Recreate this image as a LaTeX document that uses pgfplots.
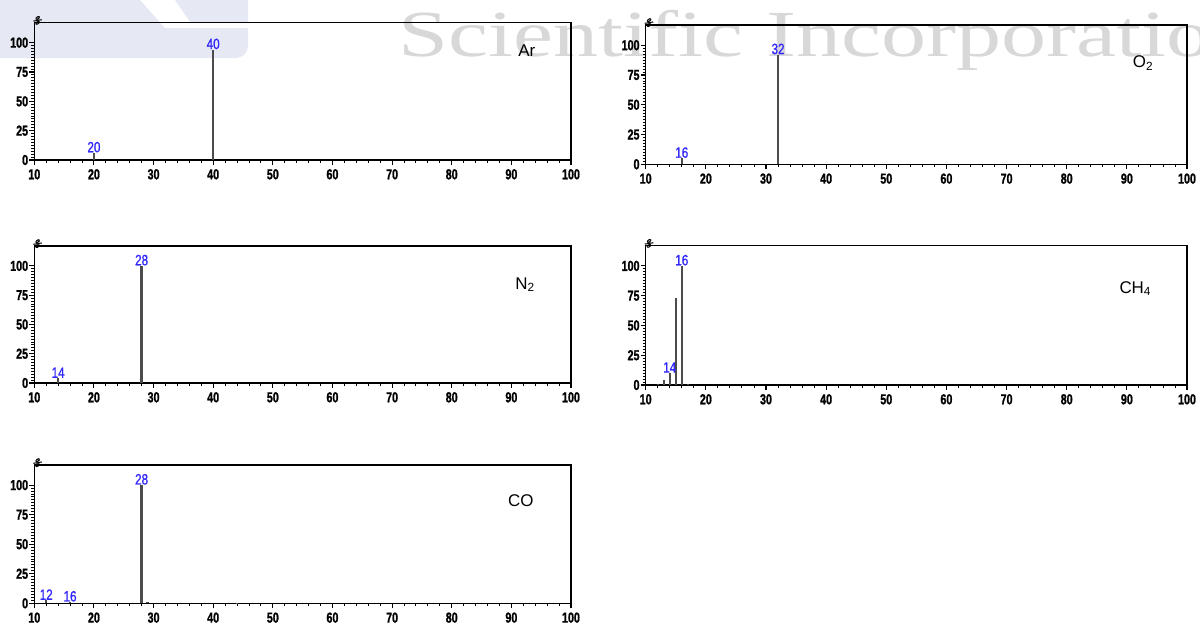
\documentclass[border=0pt]{standalone}
\usepackage{fontspec}
\setmainfont{Liberation Sans}
\newfontfamily\tickfont{Liberation Sans}[UprightFont=* Bold, FakeStretch=0.74, FakeBold=1.2]
\newfontfamily\peakfont{Liberation Sans}[FakeStretch=0.78, FakeBold=1]
\newfontfamily\wmfont{Liberation Serif}
\usepackage{pgfplots}
\pgfplotsset{compat=1.18}
\definecolor{peakblue}{RGB}{50,40,250}
\definecolor{wm}{RGB}{216,216,216}
\definecolor{logo}{RGB}{230,233,243}
\pgfplotsset{
  spec/.style={
    scale only axis, anchor=north west,
    xmin=10, xmax=100, ymin=0, ymax=117,
    xtick={10,20,...,100}, ytick={0,25,50,75,100},
    minor x tick num=4, minor y tick num=9,
    tick pos=left, tick align=outside,
    major tick length=5bp, minor tick length=3bp,
    tick style={black, line width=1.1bp},
    minor tick style={line width=0.9bp},
    axis line style={black, line width=1.5bp},
    ticklabel style={font=\tickfont\fontsize{14.5}{14.5}\selectfont, inner sep=1bp},
    xticklabel style={yshift=-3bp},
    /pgf/number format/assume math mode=true,
    clip=false,
    after end axis/.code={
      \node[font=\tickfont\fontsize{11}{11}\selectfont, rotate=-55, anchor=south, inner sep=0pt]
        at (rel axis cs:0,1) {\%};
    },
  },
  peaks/.style={ycomb, black!70, line width=2.4bp, mark=none},
  lbl/.style={draw=none, mark=none, nodes near coords, point meta=explicit symbolic,
    nodes near coords style={font=\peakfont\fontsize{15}{15}\selectfont, text=peakblue,
      inner sep=0.3bp, anchor=south}},
}
\tikzset{gas/.style={font=\fontsize{17}{17}\selectfont, anchor=base}}
\begin{document}
\begin{tikzpicture}
\useasboundingbox (0,0) rectangle (1200bp,-624bp);
% background logo and watermark
\fill[logo] (0,0) -- (140bp,0) -- (165bp,-28bp) -- (248bp,-28bp) -- (248bp,-46bp)
  arc[start angle=0, end angle=-90, radius=12bp] -- (0,-58bp) -- cycle;
\fill[logo] (175bp,0) -- (248bp,0) -- (248bp,-22bp) -- (190bp,-22bp) -- cycle;
\node[anchor=base west, inner sep=0pt, text=wm, font=\wmfont\fontsize{66}{66}\selectfont]
  at (398bp,-56bp) {\scalebox{1.37}[1]{Scientific Incorporation}};

% Ar
\begin{axis}[spec, at={(34.3bp,-22.7bp)}, width=536.7bp, height=137.3bp]
\addplot[peaks] coordinates {(20,6) (40,94)};
\addplot[lbl] coordinates {(20,6)[20] (40,94)[40]};
\node[gas] at (axis cs:92.6,88.3) {Ar};
\end{axis}

% O2
\begin{axis}[spec, at={(645.7bp,-25bp)}, width=541.3bp, height=139.3bp]
\addplot[peaks] coordinates {(16,5) (32,92)};
\addplot[lbl] coordinates {(16,5)[16] (32,92)[32]};
\node[gas] at (axis cs:92.7,81) {O\textsubscript{2}};
\end{axis}

% N2
\begin{axis}[spec, at={(34.3bp,-246bp)}, width=536.7bp, height=137bp]
\addplot[peaks] coordinates {(14,4) (28,100)};
\addplot[lbl] coordinates {(14,4)[14] (28,100)[28]};
\node[gas] at (axis cs:92.3,80) {N\textsubscript{2}};
\end{axis}

% CH4
\begin{axis}[spec, at={(645.7bp,-245.7bp)}, width=541.3bp, height=139.3bp]
\addplot[peaks] coordinates {(12,1) (13,4) (14,10) (15,73) (16,100) (17,1.2)};
\addplot[lbl] coordinates {(14,10)[14] (16,100)[16]};
\node[gas] at (axis cs:91.4,77) {CH\textsubscript{4}};
\end{axis}

% CO
\begin{axis}[spec, at={(34.3bp,-465bp)}, width=536.7bp, height=138.3bp]
\addplot[peaks] coordinates {(12,2.5) (16,1) (28,100) (29,1) (44,0.6)};
\addplot[lbl] coordinates {(12,2.5)[12] (16,1)[16] (28,100)[28]};
\node[gas] at (axis cs:91.6,81.6) {CO};
\end{axis}
\end{tikzpicture}
\end{document}
